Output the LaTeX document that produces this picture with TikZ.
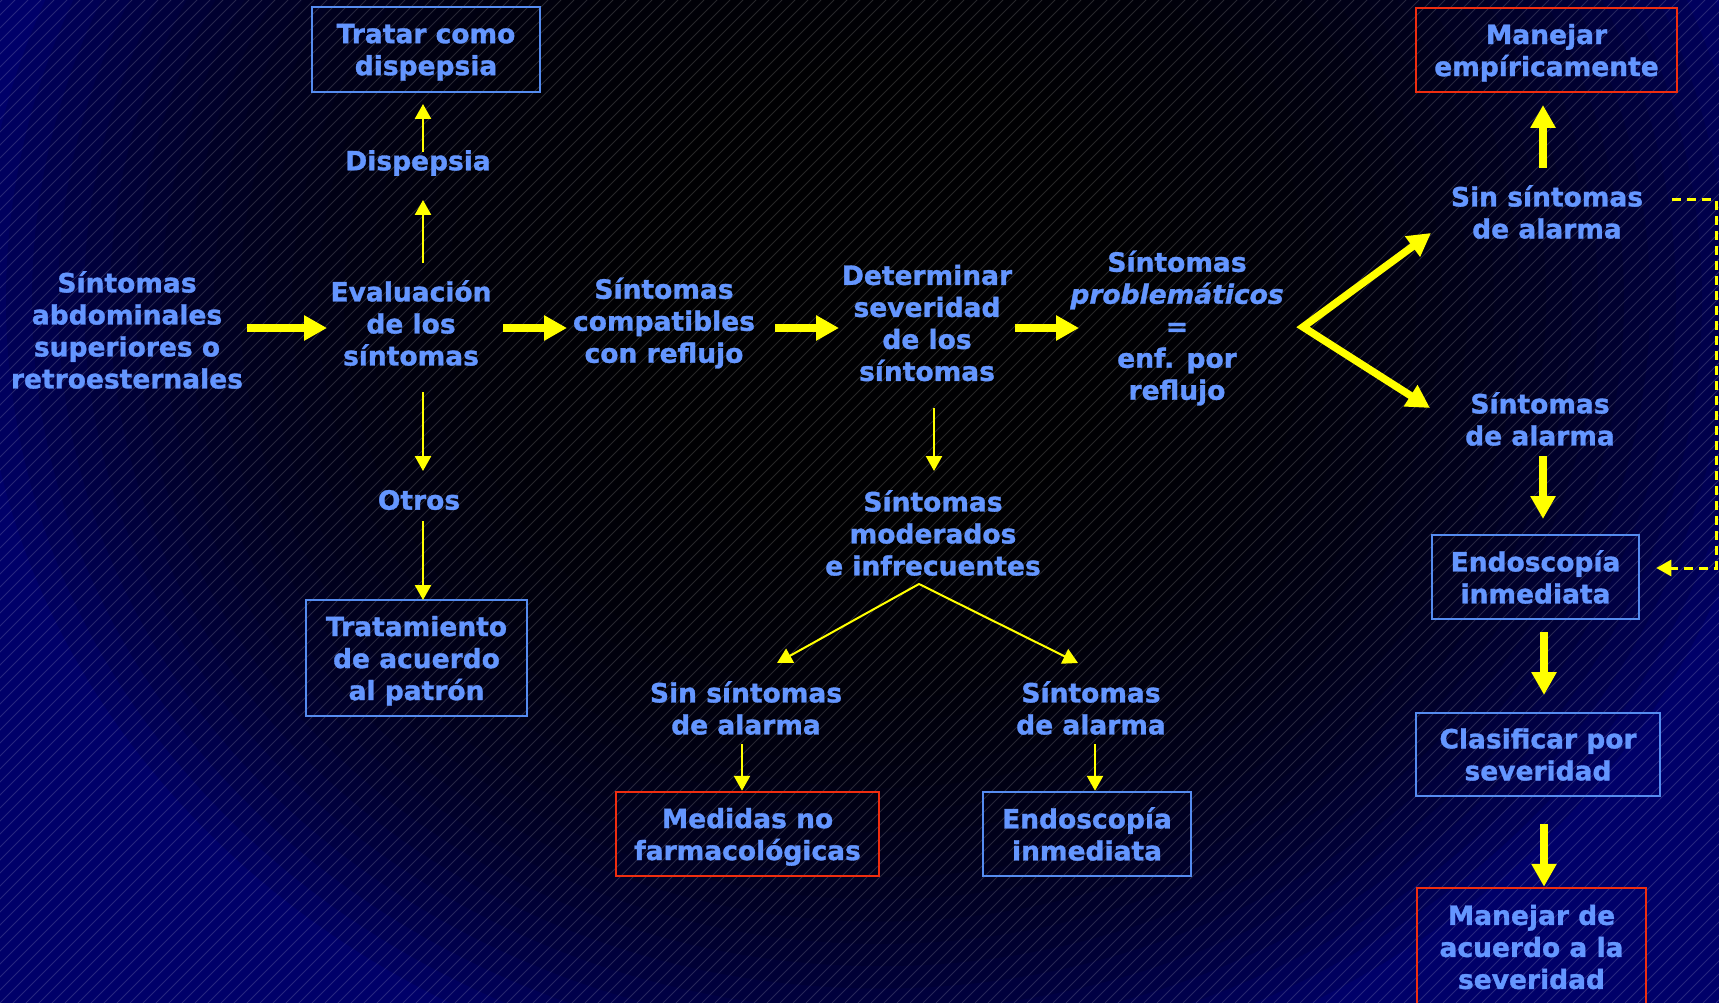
\documentclass[tikz,border=0pt]{standalone}
\usepackage{fontspec}
\setmainfont{DejaVu Sans}[BoldFeatures={FakeBold=1.2}, BoldItalicFeatures={FakeBold=1.2}]
\usetikzlibrary{arrows.meta}
\definecolor{bgnavy}{RGB}{0,0,105}
\definecolor{txtblue}{RGB}{100,150,255}
\definecolor{edgeblue}{RGB}{85,140,240}
\definecolor{edgered}{RGB}{240,45,15}
\definecolor{arrowyellow}{RGB}{255,255,0}
\tikzset{
  bigtip/.tip={Triangle[width=24pt,length=23pt]},
  smalltip/.tip={Triangle[width=16pt,length=15pt]},
}
% last line of a framed text: ignore its descenders when centring
\newcommand\flatline[1]{\raisebox{0pt}[\height][0pt]{#1}}
\begin{document}
\begin{tikzpicture}[x=1pt,y=-1pt,
  txt/.style={align=center, inner sep=0pt, text=txtblue,
    font=\fontsize{26.5}{32}\selectfont\bfseries},
  framed/.style={txt, line width=2.5pt},
  bluebox/.style={framed, draw=edgeblue},
  redbox/.style={framed, draw=edgered},
  bigarrow/.style={draw=arrowyellow, line width=7.5pt, -bigtip},
  thinarrow/.style={draw=arrowyellow, line width=2.5pt, -smalltip},
  forkarrow/.style={draw=arrowyellow, line width=2pt, smalltip-smalltip},
  dasharrow/.style={draw=arrowyellow, line width=3pt, dash pattern=on 9pt off 6pt, -smalltip},
]
\useasboundingbox (0,0) rectangle (1719,1003);

% background: navy darkening towards the upper middle, with fine diagonal hatching
\begin{scope}
  \clip (0,0) rectangle (1719,1003);
  \fill[bgnavy] (0,0) rectangle (1719,1003);
  \foreach \k in {0,...,25}
    \fill[black, opacity=0.1] (880,300) ellipse ({900-26*\k} and {800-22.3*\k});
  \foreach \i in {-1014,-1001,...,1730}
    \draw[white, opacity=0.15, line width=0.8pt] (\i,1003) -- (\i+1003,0);
\end{scope}

% main row
\node[txt] (sintAbd) at (127,330) {Síntomas\\abdominales\\superiores o\\retroesternales};
\node[txt] (eval) at (411,323) {Evaluación\\de los\\síntomas};
\node[txt] (compat) at (664,323) {Síntomas\\compatibles\\con reflujo};
\node[txt] (determ) at (927,323) {Determinar\\severidad\\de los\\síntomas};
\node[txt] (problem) at (1177,328) {Síntomas\\\textit{problemáticos}\\=\\enf. por\\reflujo};

% branch above and below the evaluation
\node[txt] (dispepsia) at (418,163) {Dispepsia};
\node[bluebox, minimum width=228pt, minimum height=85pt] (tratar) at (426,49.5) {Tratar como\\\flatline{dispepsia}};
\node[txt] (otros) at (419,500) {Otros};
\node[bluebox, minimum width=221pt, minimum height=116pt] (tratamiento) at (416.5,658) {Tratamiento\\de acuerdo\\\flatline{al patrón}};

% branch below the severity step
\node[txt] (moder) at (933,533) {Síntomas\\moderados\\e infrecuentes};
\node[txt] (sinM) at (746,708) {Sin síntomas\\de alarma};
\node[txt] (conM) at (1091,708) {Síntomas\\de alarma};
\node[redbox, minimum width=263pt, minimum height=84pt] (medidas) at (747.5,834) {Medidas no\\\flatline{farmacológicas}};
\node[bluebox, minimum width=208pt, minimum height=84pt] (endoM) at (1087,834) {Endoscopía\\inmediata};

% right column
\node[txt] (sinA) at (1547,212) {Sin síntomas\\de alarma};
\node[redbox, minimum width=261pt, minimum height=84pt] (manejarE) at (1546.5,50) {Manejar\\\flatline{empíricamente}};
\node[txt] (conA) at (1540,419) {Síntomas\\de alarma};
\node[bluebox, minimum width=207pt, minimum height=84pt] (endoR) at (1535.5,577) {Endoscopía\\inmediata};
\node[bluebox, minimum width=244pt, minimum height=83pt] (clasificar) at (1538,754.5) {Clasificar por\\severidad};
\node[redbox, minimum width=229pt, minimum height=118pt] (manejarS) at (1531.5,947) {Manejar de\\acuerdo a la\\severidad};

% thick arrows along the main row
\draw[bigarrow] ([shift={(120,-2)}]sintAbd.center) -- ([shift={(-84,5)}]eval.center);
\draw[bigarrow] ([shift={(92,5)}]eval.center) -- ([shift={(-97,5)}]compat.center);
\draw[bigarrow] ([shift={(111,5)}]compat.center) -- ([shift={(-88,5)}]determ.center);
\draw[bigarrow] ([shift={(88,5)}]determ.center) -- ([shift={(-98,0)}]problem.center);
\draw[bigarrow, bigtip-bigtip] ([shift={(-116,21)}]sinA.center)
  -- ([shift={(126,-1)}]problem.center) -- ([shift={(-110,-11)}]conA.center);

% thin arrows around the evaluation
\draw[thinarrow] ([shift={(12,-60)}]eval.center) -- ([shift={(5,37)}]dispepsia.center);
\draw[thinarrow] ([shift={(5,-11)}]dispepsia.center) -- ([shift={(-3,54.5)}]tratar.center);
\draw[thinarrow] ([shift={(12,69)}]eval.center) -- ([shift={(4,-29)}]otros.center);
\draw[thinarrow] ([shift={(4,21)}]otros.center) -- ([shift={(6.5,-58)}]tratamiento.center);

% thin arrows below the severity step
\draw[thinarrow] ([shift={(7,85)}]determ.center) -- ([shift={(1,-62)}]moder.center);
\draw[forkarrow] ([shift={(31,-45)}]sinM.center) -- ([shift={(-14,51)}]moder.center)
  -- ([shift={(-13,-45)}]conM.center);
\draw[thinarrow] ([shift={(-4,36)}]sinM.center) -- ([xshift=-5.5pt]medidas.north);
\draw[thinarrow] ([shift={(4,36)}]conM.center) -- ([xshift=8pt]endoM.north);

% right column arrows
\draw[bigarrow] ([shift={(-4,-44)}]sinA.center) -- ([shift={(-3.5,55)}]manejarE.center);
\draw[bigarrow] ([shift={(3,37)}]conA.center) -- ([shift={(7.5,-58)}]endoR.center);
\draw[bigarrow] ([shift={(8.5,55)}]endoR.center) -- ([shift={(6,-59.5)}]clasificar.center);
\draw[bigarrow] ([shift={(6,69.5)}]clasificar.center) -- ([xshift=12.5pt]manejarS.north);
\draw[dasharrow] ([shift={(125,-12)}]sinA.center) -- ++(44,0)
  |- ([shift={(16,-9)}]endoR.east);
\end{tikzpicture}
\end{document}
